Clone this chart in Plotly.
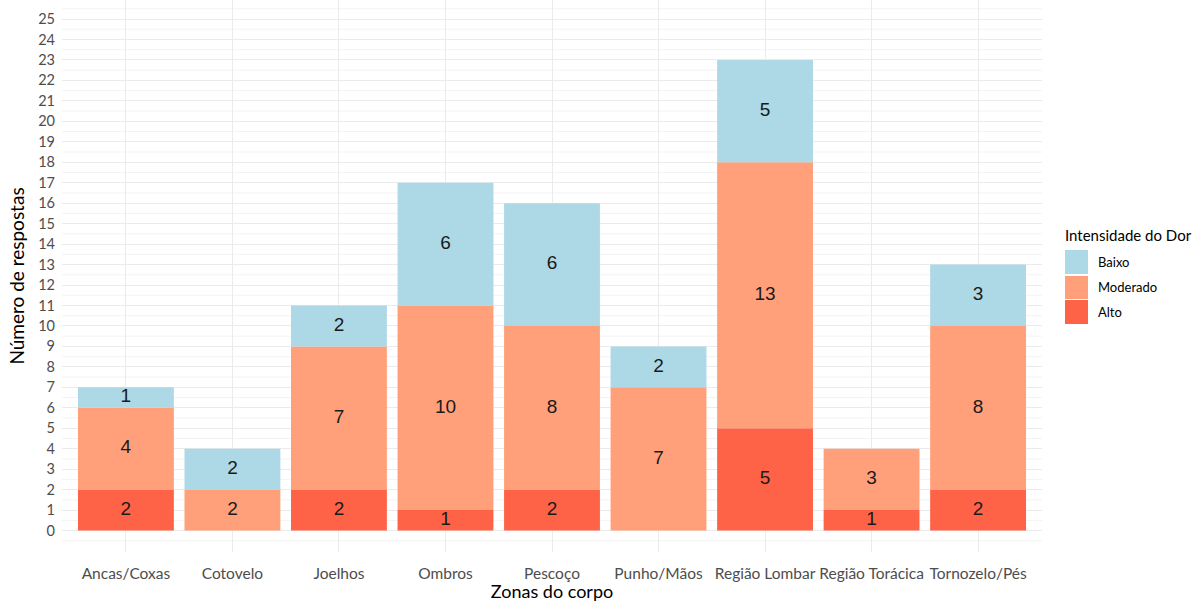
import plotly.graph_objects as go

zonas = ["Ancas/Coxas", "Cotovelo", "Joelhos", "Ombros", "Pescoço",
         "Punho/Mãos", "Região Lombar", "Região Torácica", "Tornozelo/Pés"]
alto = [2, 0, 2, 1, 2, 0, 5, 1, 2]
moderado = [4, 2, 7, 10, 8, 7, 13, 3, 8]
baixo = [1, 2, 2, 6, 6, 2, 5, 0, 3]

niveis = ["Alto", "Moderado", "Baixo"]
series = [alto, moderado, baixo]
cores = {"Baixo": "#ADD8E6", "Moderado": "#FFA07A", "Alto": "#FF6347"}

# plot panel in pixels (used to place the hand-drawn legend)
PX_L, PX_R, PX_T, PX_B = 62, 1042, 0, 552
W, H = 1203, 602


def px_x(p):
    return (p - PX_L) / (PX_R - PX_L)


def px_y(p):
    return (PX_B - p) / (PX_B - PX_T)


fig = go.Figure()
base = [0] * len(zonas)
for nome, vals in zip(niveis, series):
    fig.add_trace(go.Bar(
        x=zonas, y=vals, base=base, name=nome,
        marker=dict(color=cores[nome], line=dict(width=0)),
        width=0.9, showlegend=False, hoverinfo="x+y+name",
    ))
    # segment labels at the middle of each non-empty segment
    mids = [b + v / 2 for b, v in zip(base, vals)]
    fig.add_trace(go.Scatter(
        x=zonas, y=mids, mode="text",
        text=[str(v) if v else "" for v in vals],
        textfont=dict(family="Liberation Sans, Arial", size=19, color="#1a1a1a"),
        showlegend=False, hoverinfo="skip",
    ))
    base = [b + v for b, v in zip(base, vals)]

# hand-drawn legend
shapes = []
annotations = [dict(
    x=px_x(1063), y=px_y(235), xref="paper", yref="paper",
    text="Intensidade do Dor", showarrow=False, xanchor="left", yanchor="middle",
    font=dict(family="Lato, Open Sans", size=15, color="#000000"),
)]
chaves = [("Baixo", 250, 274), ("Moderado", 276, 299), ("Alto", 300, 324)]
for nome, y0, y1 in chaves:
    shapes.append(dict(
        type="rect", xref="paper", yref="paper",
        x0=px_x(1065), x1=px_x(1088), y0=px_y(y1), y1=px_y(y0),
        fillcolor=cores[nome], line=dict(width=0), layer="above",
    ))
    annotations.append(dict(
        x=px_x(1096), y=px_y((y0 + y1) / 2), xref="paper", yref="paper",
        text=nome, showarrow=False, xanchor="left", yanchor="middle",
        font=dict(family="Lato, Open Sans", size=13, color="#000000"),
    ))

# minor grid lines at half units
for k in range(-1, 26):
    shapes.append(dict(
        type="line", xref="paper", yref="y", x0=0, x1=1, y0=k + 0.5, y1=k + 0.5,
        line=dict(color="#F3F3F3", width=1), layer="below",
    ))

fig.update_layout(
    width=W, height=H,
    margin=dict(l=PX_L, r=W - PX_R, t=PX_T, b=H - PX_B),
    plot_bgcolor="white", paper_bgcolor="white",
    barmode="overlay", bargap=0.1,
    shapes=shapes, annotations=annotations,
    font=dict(family="Lato, Open Sans", color="#4D4D4D"),
    xaxis=dict(
        range=[-0.6, 8.6], showgrid=True, gridcolor="#EBEBEB", gridwidth=1,
        zeroline=False, showline=False, ticks="", ticklabelstandoff=10,
        tickfont=dict(size=15.5, color="#4D4D4D"),
        title=dict(text="Zonas do corpo", standoff=3,
                   font=dict(size=18, color="#000000")),
    ),
    yaxis=dict(
        range=[-1.05, 25.93], tickmode="array", tickvals=list(range(0, 26)),
        showgrid=True, gridcolor="#EBEBEB", gridwidth=1,
        zeroline=False, showline=False, ticks="", ticklabelstandoff=6,
        tickfont=dict(size=14.5, color="#4D4D4D"),
        title=dict(text="Número de respostas", standoff=8,
                   font=dict(size=19, color="#000000")),
    ),
)

fig.write_html("out.html")
